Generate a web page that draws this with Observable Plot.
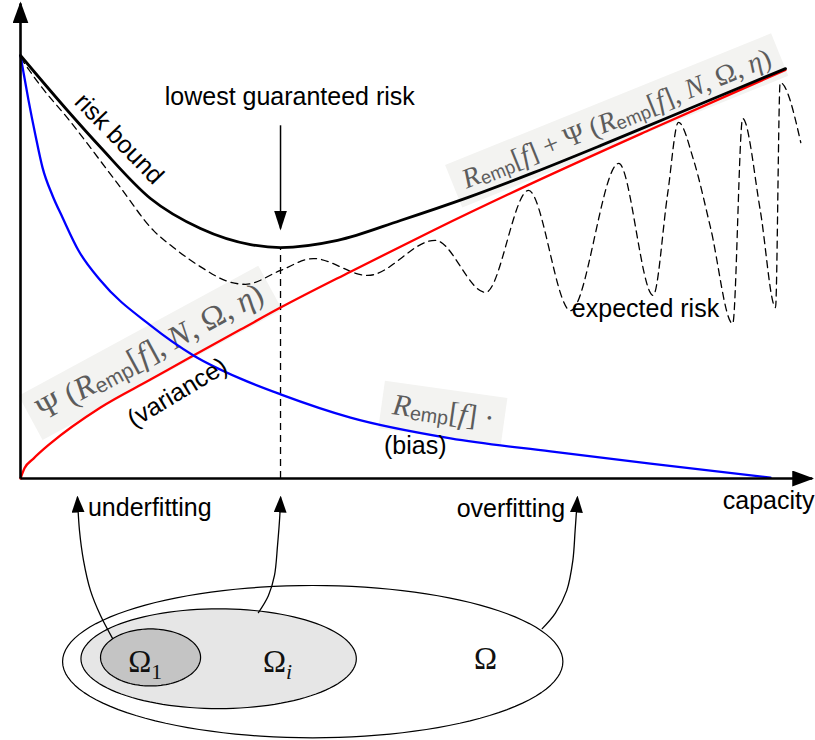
<!DOCTYPE html>
<html>
<head>
<meta charset="utf-8">
<script src="https://cdn.jsdelivr.net/npm/d3@7"></script>
<script src="https://cdn.jsdelivr.net/npm/@observablehq/plot@0.6"></script>
<style>
  html, body { margin: 0; padding: 0; background: #fff; }
  #chart svg { display: block; }
</style>
</head>
<body>
<div id="chart"></div>
<script>
// Schematic units: capacity 0..100 along the horizontal axis, risk 0..100 up the vertical axis.

// empirical risk R_emp[f] (bias)
const biasCapacity = [0, 0.39, 1.05, 1.96, 2.88, 4.18, 5.49, 7.58, 10.46, 16.99, 22.61, 28.76, 33.99, 43.14, 56.21, 69.28, 82.35, 98.04];
const biasRisk     = [100, 96.0, 89.4, 81.1, 73.5, 66.9, 61.7, 53.9, 46.8, 36.2, 29.1, 23.6, 19.9, 14.4, 9.5, 6.4, 3.5, 0.2];

// confidence term Psi (variance)
const varianceCapacity = [0, 0.52, 1.70, 3.92, 10.46, 16.99, 22.61, 28.76, 33.99, 43.14, 53.99, 66.27, 82.35, 100];
const varianceRisk     = [0, 2.4, 4.7, 8.3, 16.8, 23.4, 29.1, 35.2, 40.4, 48.9, 58.7, 69.3, 82.5, 96.6];

// risk bound = R_emp + Psi
const boundCapacity = [0, 6.14, 10.46, 16.99, 23.53, 30.07, 33.99, 41.44, 49.67, 58.43, 67.06, 75.82, 84.58, 100];
const boundRisk     = [100, 87.0, 78.3, 66.2, 59.1, 55.3, 54.6, 56.3, 61.0, 66.4, 72.3, 78.7, 85.3, 96.9];

// expected risk (dashed, oscillating at high capacity)
const expectedCapacity = [0, 2.6, 6.1, 12.7, 17.4, 20.0, 23.5, 27.1, 29.4, 34.0, 38.3, 45.4, 54.2, 60.8, 66.4, 71.9, 78.2, 82.7, 84.6, 86.0, 88.0, 90.2, 93.1, 94.4, 96.7, 98.7, 99.3, 102.0];
const expectedRisk     = [99.5, 92.9, 85.3, 69.7, 58.6, 54.6, 50.1, 46.6, 45.9, 49.2, 52.0, 48.0, 56.3, 44.0, 68.1, 39.7, 74.5, 43.3, 67.4, 84.2, 75.2, 59.3, 36.6, 85.1, 63.4, 40.4, 93.6, 79.4];

// axis extents (arrow tips)
const axisEndCapacity = 103.5;
const axisEndRisk = 112.3;

// "lowest guaranteed risk" pointer: start and tip on the risk axis
const pointerFromRisk = 83.5;
const pointerToRisk = 59.1;

// nested hypothesis sets Omega_1 ⊂ Omega_i ⊂ Omega (drawn below the capacity axis)
const regionNames      = ["Ω", "Ωi", "Ω1"];
const regionCapacity   = [38.2, 25.9, 17.0];
const regionRisk       = [-43.3, -42.6, -42.3];
const regionHalfWidth  = [32.7, 18.0, 6.54];
const regionHalfHeight = [18.0, 11.8, 6.74];
const regionFill       = ["#ffffff", "#e6e6e6", "#c4c4c4"];

// curved pointers from the sets up to the capacity axis
const fitArrowId       = ["under", "under", "under", "under", "under", "under",
                          "best", "best", "best", "best", "best", "best",
                          "over", "over", "over", "over", "over", "over"];
const fitArrowCapacity = [12.03, 10.46, 9.15, 8.24, 7.71, 7.45,
                          31.1, 32.4, 33.2, 33.6, 33.9, 34.0,
                          68.2, 69.9, 71.4, 72.2, 72.5, 72.8];
const fitArrowRisk     = [-37.8, -32.4, -26.5, -19.4, -12.3, -4.5,
                          -31.7, -27.7, -22.9, -15.8, -8.7, -4.5,
                          -35.5, -31.9, -26.5, -19.4, -12.3, -4.5];

// plain text annotations
const labelText     = ["lowest guaranteed risk", "risk bound", "expected risk", "(variance)", "(bias)", "underfitting", "overfitting", "capacity"];
const labelCapacity = [35.2, 12.9, 81.7, 20.5, 51.6, 16.9, 64.1, 97.8];
const labelRisk     = [90.1, 80.3, 40.0, 20.3, 7.8, -6.9, -7.1, -5.4];
const labelAngle    = [0, 46, 0, -31, 0, 0, 0, 0];

// formula annotations: [style, text] runs; i = italic, s = "emp" subscript, r = roman, d/di = lowered index
const boundFormula    = [["i","R"],["s","emp"],["r","["],["i","f"],["r","] + Ψ ("],["i","R"],["s","emp"],["r","["],["i","f"],["r","], "],["i","N"],["r",", Ω, "],["i","η"],["r",")"]];
const varianceFormula = [["r","Ψ ("],["i","R"],["s","emp"],["r","["],["i","f"],["r","], "],["i","N"],["r",", Ω, "],["i","η"],["r",")"]];
const biasFormula     = [["i","R"],["s","emp"],["r","["],["i","f"],["r","] ·"]];
const formulaRuns     = [boundFormula, varianceFormula, biasFormula];
const formulaCapacity = [77.9, 16.9, 55.3];
const formulaRisk     = [85.1, 30.0, 15.8];
const formulaAngle    = [-22, -28.5, 8];
const formulaSize     = [28, 32, 30];

const regionLabelRuns     = [[["r","Ω"],["d","1"]], [["r","Ω"],["di","i"]], [["r","Ω"]]];
const regionLabelCapacity = [16.3, 33.6, 60.8];
const regionLabelRisk     = [-43.5, -43.5, -42.6];

// ---- tables for the marks ----
const zip = (xs, ys) => xs.map((x, i) => ({capacity: x, risk: ys[i]}));
const bias = zip(biasCapacity, biasRisk);
const variance = zip(varianceCapacity, varianceRisk);
const bound = zip(boundCapacity, boundRisk);
const expected = zip(expectedCapacity, expectedRisk);
const lowest = d3.least(bound, d => d.risk);

const regions = regionNames.map((name, i) => ({
  name, capacity: regionCapacity[i], risk: regionRisk[i],
  rx: regionHalfWidth[i], ry: regionHalfHeight[i], fill: regionFill[i]
}));
const outline = r => d3.range(0, 121).map(k => {
  const t = 2 * Math.PI * k / 120;
  return {capacity: r.capacity + r.rx * Math.cos(t), risk: r.risk + r.ry * Math.sin(t)};
});

const fitArrows = fitArrowId.map((id, i) => ({id, capacity: fitArrowCapacity[i], risk: fitArrowRisk[i]}));
const labels = labelText.map((text, i) => ({text, capacity: labelCapacity[i], risk: labelRisk[i], angle: labelAngle[i]}));
const plain = runs => runs.map(r => r[1]).join("");
const formulas = formulaRuns.map((runs, i) => ({runs, text: plain(runs), capacity: formulaCapacity[i], risk: formulaRisk[i], angle: formulaAngle[i], size: formulaSize[i]}));
const regionLabels = regionLabelRuns.map((runs, i) => ({runs, text: plain(runs), capacity: regionLabelCapacity[i], risk: regionLabelRisk[i], size: 31}));

const sans = "'Liberation Sans', Arial, Helvetica, sans-serif";
const serif = "'Liberation Serif', 'Times New Roman', serif";

// distinct (visually identical) colour strings let the post-render steps find each group
const AXIS_INK = "#000000", POINTER_INK = "#010101", FIT_INK = "#020202";
const FORMULA_INK = "#5c5c5c", REGION_INK = "#111111";

const chart = Plot.plot({
  width: 815,
  height: 740,
  marginTop: 0, marginRight: 0, marginBottom: 0, marginLeft: 0,
  x: {domain: [0, 100], range: [20, 785], axis: null},
  y: {domain: [0, 100], range: [478, 55], axis: null},
  style: {background: "#ffffff", overflow: "visible"},
  marks: [
    // nested sets
    ...regions.map(r => Plot.line(outline(r), {x: "capacity", y: "risk", fill: r.fill, stroke: "black", strokeWidth: 1.2, curve: "linear-closed"})),
    Plot.text(regionLabels, {x: "capacity", y: "risk", text: "text", fontSize: 31, fontFamily: serif, fill: REGION_INK}),

    // formula labels on light boxes
    Plot.text(formulas, {x: "capacity", y: "risk", text: "text", rotate: "angle", fontSize: d => d.size, fontFamily: serif, fill: FORMULA_INK}),

    // expected risk and the minimum of the bound
    Plot.line(expected, {x: "capacity", y: "risk", stroke: "black", strokeWidth: 1.3, strokeDasharray: "7,5", curve: "monotone-x"}),
    Plot.ruleX([lowest], {x: "capacity", y1: 0, y2: "risk", stroke: "black", strokeWidth: 1.3, strokeDasharray: "7,5"}),

    // variance, bias and the risk bound
    Plot.line(variance, {x: "capacity", y: "risk", stroke: "#ff0000", strokeWidth: 2.3, curve: "monotone-x"}),
    Plot.line(bias, {x: "capacity", y: "risk", stroke: "#0000ff", strokeWidth: 2.3, curve: "monotone-x"}),
    Plot.line(bound, {x: "capacity", y: "risk", stroke: "black", strokeWidth: 2.8, curve: "monotone-x"}),

    // axes with arrow heads
    Plot.link([{x1: 0, y1: 0, x2: axisEndCapacity, y2: 0}, {x1: 0, y1: 0, x2: 0, y2: axisEndRisk}],
      {x1: "x1", y1: "y1", x2: "x2", y2: "y2", stroke: AXIS_INK, strokeWidth: 2.6}),

    // pointer to the lowest guaranteed risk
    Plot.link([lowest], {x1: "capacity", x2: "capacity", y1: () => pointerFromRisk, y2: () => pointerToRisk, stroke: POINTER_INK, strokeWidth: 1.5}),

    // curved pointers from the sets
    Plot.line(fitArrows, {x: "capacity", y: "risk", z: "id", stroke: FIT_INK, strokeWidth: 1.3, curve: "catmull-rom"}),

    // text annotations
    Plot.text(labels, {x: "capacity", y: "risk", text: "text", rotate: "angle", fontSize: 25, fontFamily: sans, fill: "black"})
  ]
});

document.getElementById("chart").append(chart);

// ---- arrow heads ----
const NS = "http://www.w3.org/2000/svg";
const defs = document.createElementNS(NS, "defs");
function addHead(id, len, wid) {
  const m = document.createElementNS(NS, "marker");
  m.setAttribute("id", id);
  m.setAttribute("viewBox", `0 0 ${len} ${wid}`);
  m.setAttribute("refX", len - 2);
  m.setAttribute("refY", wid / 2);
  m.setAttribute("markerWidth", len);
  m.setAttribute("markerHeight", wid);
  m.setAttribute("markerUnits", "userSpaceOnUse");
  m.setAttribute("orient", "auto");
  const p = document.createElementNS(NS, "path");
  p.setAttribute("d", `M0,0L${len},${wid / 2}L0,${wid}Z`);
  p.setAttribute("fill", "black");
  p.setAttribute("stroke", "none");
  m.append(p);
  defs.append(m);
}
addHead("head-axis", 22, 16);
addHead("head-pointer", 20, 13);
addHead("head-fit", 17, 13);
chart.insertBefore(defs, chart.firstChild);
const withHead = (ink, id) => chart.querySelectorAll(`g[stroke="${ink}"] path`)
  .forEach(p => p.setAttribute("marker-end", `url(#${id})`));
withHead(AXIS_INK, "head-axis");
withHead(POINTER_INK, "head-pointer");
withHead(FIT_INK, "head-fit");

// ---- formula typesetting: italic symbols, sans "emp" subscript, lowered indices ----
function typeset(textEl, runs, size) {
  textEl.textContent = "";
  textEl.setAttribute("style", "white-space: pre");
  let offset = 0;
  for (const [kind, str] of runs) {
    const ts = document.createElementNS(NS, "tspan");
    ts.textContent = str;
    let shift = 0;
    if (kind === "i" || kind === "di") ts.setAttribute("font-style", "italic");
    if (kind === "s") {
      ts.setAttribute("font-family", sans);
      ts.setAttribute("font-size", (size * 0.66).toFixed(1));
      shift = size * 0.1;
    }
    if (kind === "d" || kind === "di") {
      ts.setAttribute("font-size", (size * 0.7).toFixed(1));
      shift = size * 0.22;
    }
    if (shift !== offset) ts.setAttribute("dy", (shift - offset).toFixed(2));
    offset = shift;
    textEl.append(ts);
  }
}

const regionGroup = chart.querySelector(`g[fill="${REGION_INK}"]`);
if (regionGroup) regionGroup.querySelectorAll("text").forEach((t, i) => typeset(t, regionLabels[i].runs, regionLabels[i].size));

const formulaGroup = chart.querySelector(`g[fill="${FORMULA_INK}"]`);
if (formulaGroup) formulaGroup.querySelectorAll("text").forEach((t, i) => {
  typeset(t, formulas[i].runs, formulas[i].size);
  const bb = t.getBBox();
  const rect = document.createElementNS(NS, "rect");
  rect.setAttribute("x", bb.x - 10);
  rect.setAttribute("y", bb.y - 5);
  rect.setAttribute("width", bb.width + 20);
  rect.setAttribute("height", bb.height + 14);
  rect.setAttribute("fill", "#f3f3f1");
  rect.setAttribute("stroke", "none");
  if (t.getAttribute("transform")) rect.setAttribute("transform", t.getAttribute("transform"));
  formulaGroup.insertBefore(rect, t);
});
</script>
</body>
</html>
